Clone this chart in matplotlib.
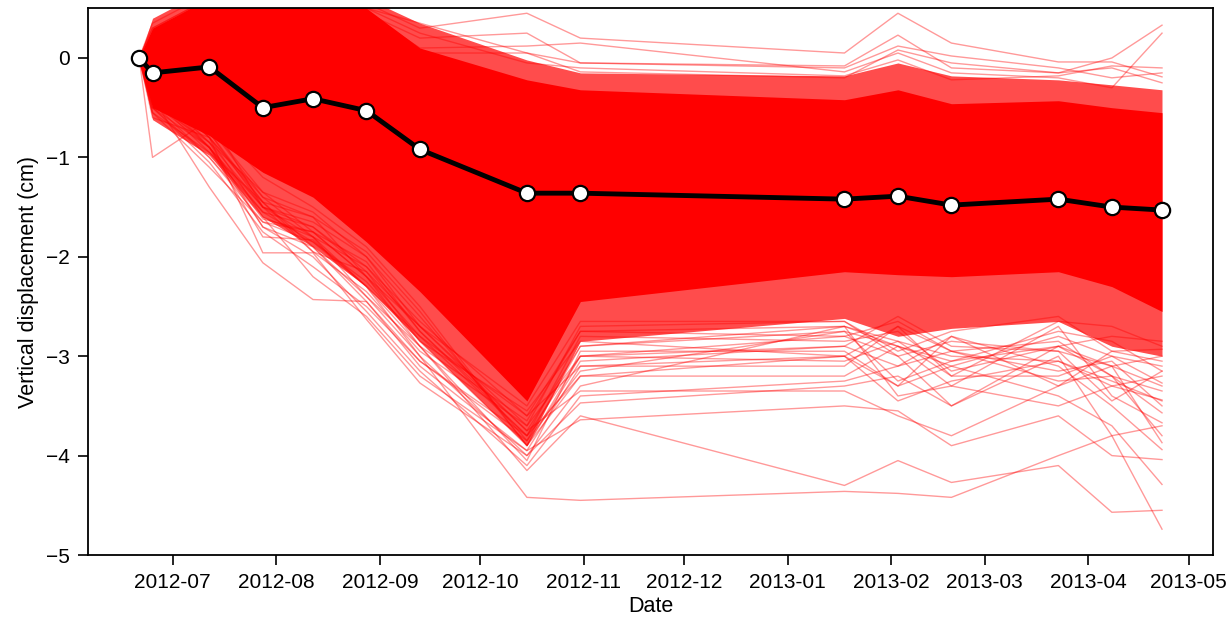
import matplotlib
matplotlib.use("Agg")
import matplotlib.pyplot as plt
import matplotlib.dates as mdates
import pandas as pd

plt.rcParams['font.family'] = ['Liberation Sans', 'DejaVu Sans']

# ---- data ----
dates = pd.to_datetime(['2012-06-21', '2012-06-25', '2012-07-12', '2012-07-28', '2012-08-12',
                        '2012-08-28', '2012-09-13', '2012-10-15', '2012-10-31', '2013-01-18',
                        '2013-02-03', '2013-02-19', '2013-03-23', '2013-04-08', '2013-04-23'])

mean_disp = [0.00, -0.15, -0.09, -0.50, -0.41, -0.53, -0.92, -1.36, -1.36, -1.42,
             -1.39, -1.48, -1.42, -1.50, -1.53]

# envelope of the solid (fully overlapped) band of individual series
core_hi = [0.0, 0.30, 0.60, 0.50, 0.60, 0.50, 0.10, -0.22, -0.32, -0.42, -0.32, -0.46, -0.43, -0.50, -0.55]
core_lo = [0.0, -0.50, -0.78, -1.15, -1.40, -1.85, -2.35, -3.45, -2.45, -2.15, -2.18, -2.20, -2.15, -2.30, -2.55]
# envelope of the dense fringe of series
dense_hi = [0.0, 0.40, 0.70, 0.65, 0.70, 0.60, 0.35, -0.02, -0.15, -0.18, -0.05, -0.18, -0.22, -0.27, -0.32]
dense_lo = [0.0, -0.62, -0.98, -1.60, -1.90, -2.30, -2.85, -3.90, -2.85, -2.62, -2.80, -2.72, -2.65, -2.90, -3.00]

# individual outlying series
outlier_1 = [0, -0.20, -0.60, -1.50, -1.80, -2.30, -3.00, -4.42, -4.45, -4.36, -4.38, -4.42, -4.00, -3.80, -3.70]
outlier_2 = [0, -0.30, -0.70, -1.40, -1.60, -2.20, -2.90, -4.15, -3.60, -4.30, -4.05, -4.27, -4.10, -4.57, -4.55]
outlier_3 = [0, -0.25, -0.80, -1.96, -1.96, -2.63, -3.27, -4.00, -3.47, -3.30, -3.20, -3.50, -3.00, -3.80, -4.74]
outlier_4 = [0, -1.00, -0.62, -1.20, -1.50, -1.90, -2.50, -3.90, -3.20, -3.00, -3.30, -3.10, -3.40, -3.70, -4.29]
outlier_5 = [0, -0.40, -1.30, -2.06, -2.43, -2.45, -3.10, -3.95, -3.64, -3.50, -3.55, -3.90, -3.60, -4.00, -4.04]
outlier_6 = [0, -0.35, -0.90, -1.80, -1.83, -2.30, -2.80, -3.80, -3.20, -3.20, -2.90, -3.30, -3.50, -3.30, -3.44]
outlier_7 = [0, -0.30, -0.85, -1.70, -1.90, -2.40, -2.90, -4.05, -2.95, -2.95, -3.30, -2.80, -3.10, -3.50, -3.94]
outlier_8 = [0, -0.45, -1.00, -1.65, -1.75, -2.20, -2.70, -3.70, -3.00, -2.80, -3.00, -3.50, -2.90, -3.20, -3.57]
outlier_9 = [0, -0.50, -0.90, -1.55, -1.70, -2.10, -2.65, -3.60, -3.10, -3.10, -2.70, -3.20, -3.20, -3.00, -3.27]
outlier_10 = [0, -0.30, -0.80, -1.60, -1.80, -2.10, -2.75, -3.75, -2.90, -2.70, -3.40, -3.30, -2.70, -3.40, -3.67]
outlier_11 = [0, -0.40, -0.90, -1.50, -1.65, -2.00, -2.60, -3.85, -2.90, -2.75, -2.90, -3.10, -2.80, -3.00, -3.10]
outlier_12 = [0, -0.35, -0.75, -1.45, -1.60, -1.95, -2.55, -3.90, -3.05, -2.90, -3.10, -2.80, -3.30, -2.95, -2.93]
outlier_13 = [0, -0.30, -0.70, -1.35, -1.55, -2.00, -2.70, -3.75, -3.35, -3.35, -3.60, -3.80, -3.30, -3.10, -3.87]
outlier_14 = [0, -0.20, -0.75, -1.50, -1.70, -2.15, -2.85, -3.90, -3.00, -3.05, -2.85, -3.00, -3.05, -3.30, -3.20]
outlier_15 = [0, -0.30, -0.90, -1.62, -1.75, -2.05, -2.75, -3.80, -2.80, -2.85, -2.75, -3.15, -2.90, -3.10, -3.00]
outlier_16 = [0, 0.30, 0.60, 0.55, 0.60, 0.55, 0.30, 0.45, 0.20, 0.05, 0.45, 0.15, -0.04, -0.04, -0.19]
outlier_17 = [0, 0.25, 0.60, 0.50, 0.55, 0.45, 0.20, 0.25, -0.05, -0.08, 0.23, -0.10, -0.15, 0.00, 0.33]
outlier_18 = [0, 0.20, 0.55, 0.50, 0.50, 0.45, 0.10, 0.12, 0.15, -0.14, 0.05, -0.15, -0.20, -0.30, 0.25]
outlier_19 = [0, 0.20, 0.50, 0.45, 0.50, 0.40, 0.05, 0.05, -0.14, -0.20, 0.08, -0.05, -0.15, -0.10, -0.25]
outlier_20 = [0, -0.55, -0.95, -1.45, -1.95, -2.35, -2.95, -3.70, -2.70, -2.65, -2.95, -2.75, -2.60, -2.95, -3.05]
outlier_21 = [0, -0.45, -0.85, -1.35, -1.75, -2.20, -2.80, -3.60, -2.75, -2.80, -2.65, -2.95, -2.85, -3.20, -3.35]
outlier_22 = [0, -0.50, -1.05, -1.75, -2.10, -2.50, -3.05, -3.85, -3.15, -2.75, -3.25, -3.05, -2.75, -2.85, -3.15]
outlier_23 = [0, -0.40, -0.95, -1.55, -1.85, -2.25, -2.85, -3.55, -2.85, -3.00, -2.70, -2.95, -3.15, -3.05, -3.50]
outlier_24 = [0, -0.60, -0.80, -1.40, -1.80, -2.40, -3.00, -4.00, -3.30, -2.70, -2.85, -3.20, -2.65, -2.70, -2.90]
outlier_25 = [0, -0.35, -0.85, -1.50, -1.95, -2.15, -2.70, -3.50, -2.65, -2.65, -3.00, -2.85, -2.95, -3.45, -3.15]
outlier_26 = [0, -0.45, -0.90, -1.70, -2.00, -2.55, -3.15, -4.10, -3.40, -3.25, -3.10, -2.95, -3.25, -3.20, -3.80]
outlier_27 = [0, -0.55, -1.10, -1.65, -1.85, -2.30, -2.90, -3.65, -2.75, -2.70, -2.90, -3.05, -2.90, -2.80, -2.85]
outlier_28 = [0, -0.30, -0.80, -1.45, -1.90, -2.45, -3.05, -3.80, -3.00, -2.90, -2.60, -2.90, -2.95, -3.10, -3.30]
outlier_29 = [0, -0.50, -1.00, -1.60, -2.20, -2.60, -3.20, -3.95, -3.10, -3.00, -3.45, -3.25, -3.05, -3.25, -3.45]
outlier_30 = [0, 0.35, 0.65, 0.55, 0.60, 0.50, 0.35, 0.05, -0.05, -0.10, 0.12, 0.02, -0.10, -0.20, -0.15]
outlier_31 = [0, 0.30, 0.60, 0.55, 0.60, 0.50, 0.25, -0.05, -0.10, -0.18, -0.02, -0.22, -0.18, -0.08, -0.10]

outliers = [outlier_1, outlier_2, outlier_3, outlier_4, outlier_5, outlier_6, outlier_7,
            outlier_8, outlier_9, outlier_10, outlier_11, outlier_12, outlier_13, outlier_14,
            outlier_15, outlier_16, outlier_17, outlier_18, outlier_19, outlier_20, outlier_21,
            outlier_22, outlier_23, outlier_24, outlier_25, outlier_26, outlier_27, outlier_28,
            outlier_29, outlier_30, outlier_31]

# ---- figure ----
fig = plt.figure(figsize=(12.31, 6.27), dpi=100)
ax = fig.add_axes([0.0715, 0.1148, 0.914, 0.872])

ax.fill_between(dates, dense_lo, dense_hi, color='red', alpha=0.7, lw=0)
ax.fill_between(dates, core_lo, core_hi, color='red', alpha=1.0, lw=0)
for s in outliers:
    ax.plot(dates, s, color='red', alpha=0.4, lw=1.0)

ax.plot(dates, mean_disp, color='black', lw=3.5, marker='o', markersize=11,
        markerfacecolor='white', markeredgecolor='black', markeredgewidth=1.6, zorder=5)

ax.set_ylim(-5, 0.5)
ax.set_yticks([0, -1, -2, -3, -4, -5])
ax.set_yticklabels(['0', '−1', '−2', '−3', '−4', '−5'])
ax.xaxis.set_major_locator(mdates.MonthLocator())
ax.xaxis.set_major_formatter(mdates.DateFormatter('%Y-%m'))
ax.tick_params(labelsize=15, length=7, width=1.2, pad=6)
for sp in ax.spines.values():
    sp.set_linewidth(1.3)
ax.set_xlabel('Date', fontsize=15.5, labelpad=3)
ax.set_ylabel('Vertical displacement (cm)', fontsize=15.5, labelpad=5)

fig.savefig('out.png', dpi=100)
